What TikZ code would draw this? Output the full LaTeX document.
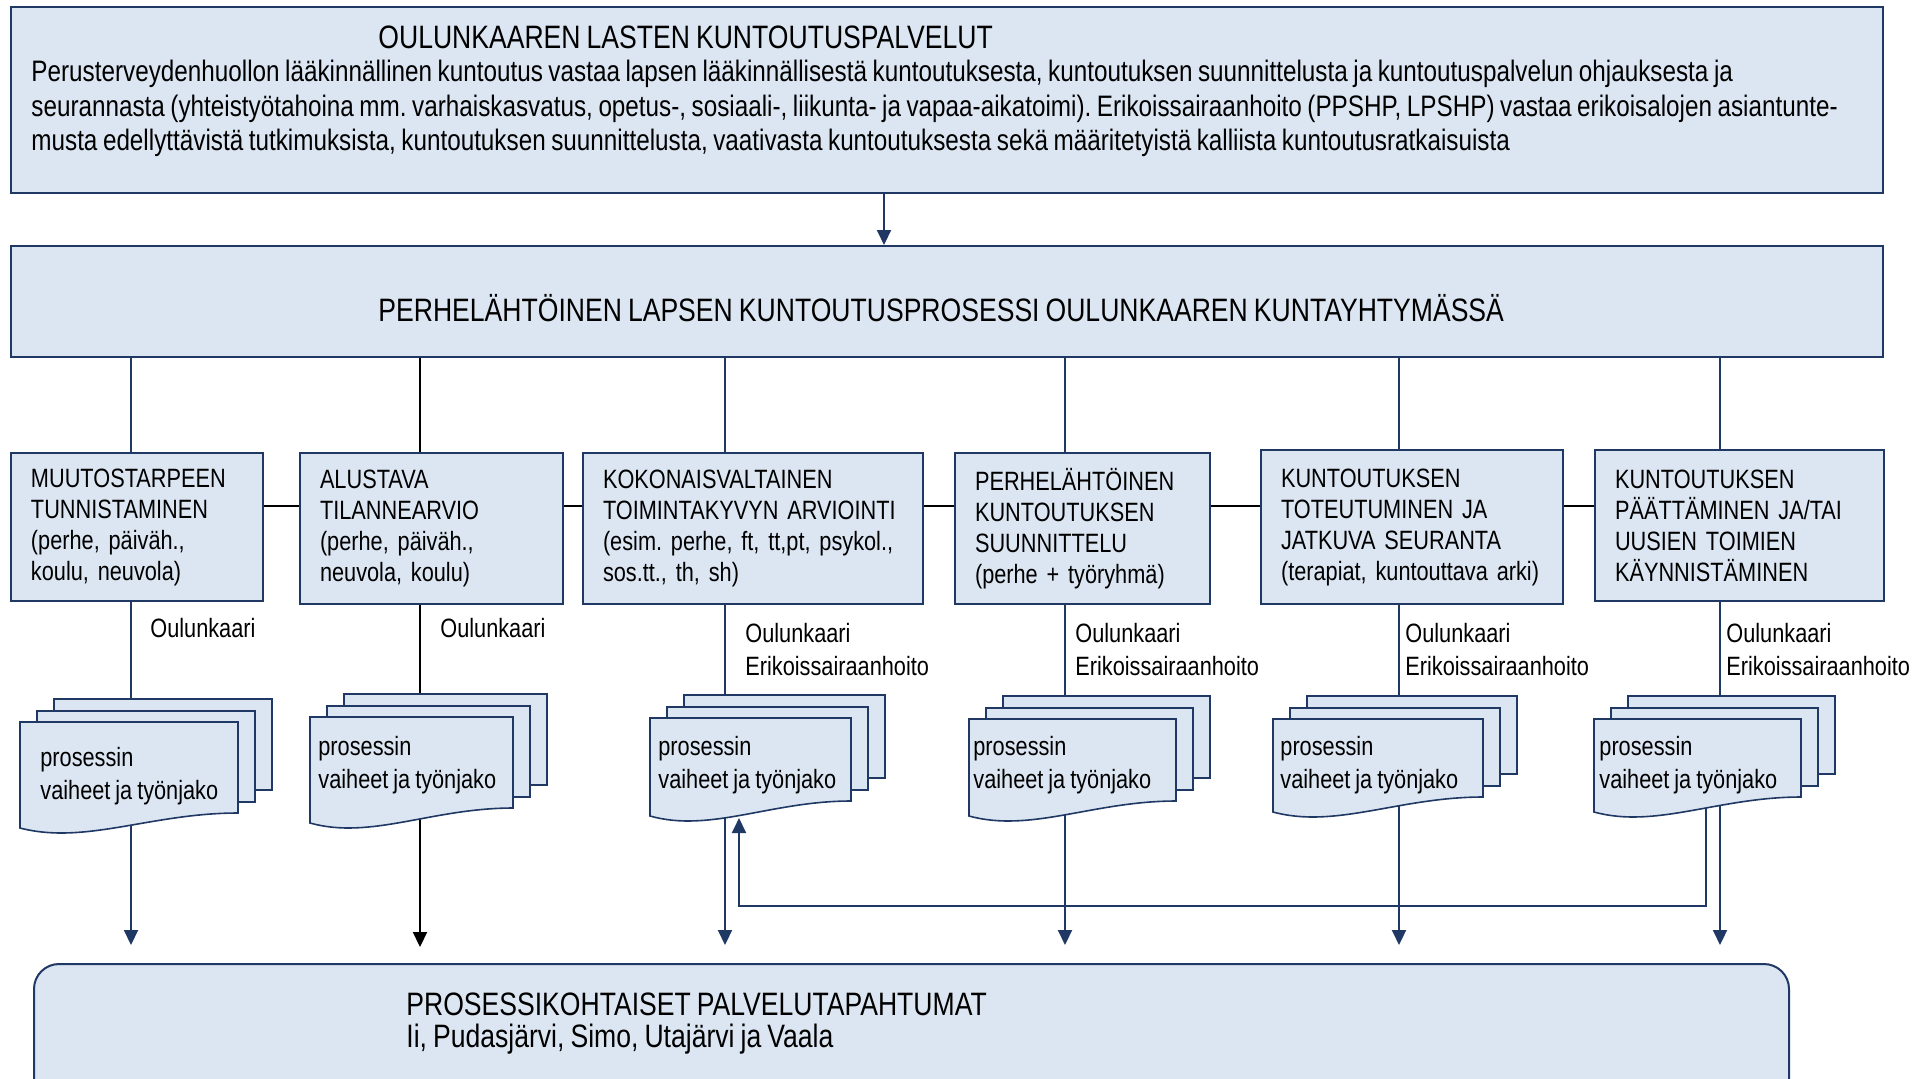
\documentclass[tikz,border=0pt]{standalone}
\usepackage{fontspec}
\setmainfont{Liberation Sans}[FakeStretch=0.82, WordSpace=0.82]
\frenchspacing
\usetikzlibrary{arrows.meta,positioning,calc}
\definecolor{paleblue}{RGB}{220,230,242}
\definecolor{navyline}{RGB}{31,56,100}
\pgfdeclarelayer{bg}
\pgfsetlayers{bg,main}
\tikzset{panel/.style={rectangle, draw=navyline, line width=1pt, fill=paleblue, inner sep=0pt, anchor=north west}}
\tikzset{stage/.style={rectangle, draw=navyline, line width=1pt, fill=paleblue, anchor=north west, align=left, inner xsep=10pt, inner ysep=0pt, font=\fontsize{13.25}{15.5}\selectfont}}
\tikzset{sheet/.style={draw=navyline, line width=0.8pt, fill=paleblue}}
\tikzset{heading/.style={anchor=west, inner sep=0pt, font=\fontsize{16.2}{19}\selectfont}}
\tikzset{para/.style={anchor=west, inner sep=0pt, align=left, font=\fontsize{14.8}{17.25}\selectfont}}
\tikzset{note/.style={anchor=west, inner sep=0pt, align=left, font=\fontsize{13.25}{16.5}\selectfont}}
\tikzset{link/.style={draw=navyline, line width=1pt}}
\tikzset{flow/.style={link, -{Triangle[width=7pt,length=7.5pt]}}}
% stack of three sheets: name, left, top, width, height, text inset, text middle
\newcommand\docstack[7]{%
  \draw[sheet] ({#2+34},{#3-23}) rectangle ++(#4,#5);
  \draw[sheet] ({#2+17},{#3-11}) rectangle ++(#4,#5);
  \draw[sheet] (#2,#3) -- ++(#4,0) -- ++(0,#5)
    .. controls +({-0.4*#4},0) and ({#2+0.3*#4},{#3+#5+32}) .. (#2,{#3+#5+15}) -- cycle;
  \node[note] (#1) at ({#2+#6},{#3+#7}) {prosessin\\vaiheet ja työnjako};
}

\begin{document}
\begin{tikzpicture}[x=0.5pt, y=-0.5pt]
\useasboundingbox (0,0) rectangle (1931,1078);
\clip (0,0) rectangle (1931,1078);

% top panels
\node[panel, minimum width=936pt, minimum height=93pt] (top) at (10,6) {};
\node[heading] (title) at (378,37) {OULUNKAAREN LASTEN KUNTOUTUSPALVELUT};
\node[para] (intro) at (31,108.5) {Perusterveydenhuollon lääkinnällinen kuntoutus vastaa lapsen lääkinnällisestä kuntoutuksesta, kuntoutuksen suunnittelusta ja kuntoutuspalvelun ohjauksesta ja\\
seurannasta (yhteistyötahoina mm. varhaiskasvatus, opetus-, sosiaali-, liikunta- ja vapaa-aikatoimi). Erikoissairaanhoito (PPSHP, LPSHP) vastaa erikoisalojen asiantunte-\\
musta edellyttävistä tutkimuksista, kuntoutuksen suunnittelusta, vaativasta kuntoutuksesta sekä määritetyistä kalliista kuntoutusratkaisuista};
\node[panel, minimum width=936pt, minimum height=55.5pt] (mid) at (10,245) {};
\node[heading] (midtitle) at (378,308) {PERHELÄHTÖINEN LAPSEN KUNTOUTUSPROSESSI OULUNKAAREN KUNTAYHTYMÄSSÄ};

% process steps
\node[stage, text width=106pt, minimum height=74pt] (b1) at (10,452) {MUUTOSTARPEEN\\TUNNISTAMINEN\\(perhe, päiväh.,\\koulu, neuvola)};
\node[stage, text width=111.5pt, minimum height=75.5pt] (b2) at (299,452) {ALUSTAVA\\TILANNEARVIO\\(perhe, päiväh.,\\neuvola, koulu)};
\node[stage, text width=150pt, minimum height=75.5pt] (b3) at (582,452) {KOKONAISVALTAINEN\\TOIMINTAKYVYN ARVIOINTI\\(esim. perhe, ft, tt,pt, psykol.,\\sos.tt., th, sh)};
\node[stage, text width=107.5pt, minimum height=75.5pt] (b4) at (954,452) {PERHELÄHTÖINEN\\KUNTOUTUKSEN\\SUUNNITTELU\\(perhe + työryhmä)};
\node[stage, text width=131pt, minimum height=77pt] (b5) at (1260,449) {KUNTOUTUKSEN\\TOTEUTUMINEN JA\\JATKUVA SEURANTA\\(terapiat, kuntouttava arki)};
\node[stage, text width=124.5pt, minimum height=75.5pt] (b6) at (1594,449) {KUNTOUTUKSEN\\PÄÄTTÄMINEN JA/TAI\\UUSIEN TOIMIEN\\KÄYNNISTÄMINEN};

% who does it
\node[note] (who1) at (150,628) {Oulunkaari};
\node[note] (who2) at (440,628) {Oulunkaari};
\node[note] (who3) at (745,649.5) {Oulunkaari\\Erikoissairaanhoito};
\node[note] (who4) at (1075,649.5) {Oulunkaari\\Erikoissairaanhoito};
\node[note] (who5) at (1405,649.5) {Oulunkaari\\Erikoissairaanhoito};
\node[note] (who6) at (1726,649.5) {Oulunkaari\\Erikoissairaanhoito};

% documents
\docstack{s1}{20}{722}{218}{91}{20}{54}
\docstack{s2}{310}{717}{203}{91}{8}{48}
\docstack{s3}{650}{718}{201}{83}{8}{47}
\docstack{s4}{969}{719}{207}{82}{4}{46}
\docstack{s5}{1273}{719}{210}{78}{7}{46}
\docstack{s6}{1594}{719}{207}{78}{5}{46}

% bottom panel
\node[panel, rounded corners=12.5pt, minimum width=877.5pt, minimum height=80pt] (low) at (33,963) {};
\node[heading] (lowtitle) at (406,1004) {PROSESSIKOHTAISET PALVELUTAPAHTUMAT};
\node[heading] (towns) at (406,1039) {Ii, Pudasjärvi, Simo, Utajärvi ja Vaala};

\coordinate (feed) at (884,0);
\coordinate (hy) at (0,506);
\coordinate (col1) at (131,0);
\coordinate (col2) at (420,0);
\coordinate (col3) at (725,0);
\coordinate (col4) at (1065,0);
\coordinate (col5) at (1399,0);
\coordinate (col6) at (1720,0);
\coordinate (loopR) at (1706,906);
\coordinate (loopL) at (739,906);
\coordinate (loopEnd) at (739,818);

\begin{pgfonlayer}{bg}
\draw[flow] (feed |- top.south) -- (feed |- mid.north);
\foreach \i in {1,3,4,5,6} {
  \draw[link] (col\i |- mid.south) -- (col\i |- b\i.north);
  \draw[flow, shorten >=9pt] (col\i |- b\i.south) -- (col\i |- low.north);
}
\draw[link, draw=black] (col2 |- mid.south) -- (col2 |- b2.north);
\draw[flow, draw=black, shorten >=8pt] (col2 |- b2.south) -- (col2 |- low.north);
\foreach \a/\b in {1/2,2/3,3/4,4/5,5/6}
  \draw[link, draw=black] (b\a.east |- hy) -- (b\b.west |- hy);
\draw[flow] (loopR |- s6.center) -- (loopR) -- (loopL) -- (loopEnd);
\end{pgfonlayer}
\end{tikzpicture}
\end{document}
